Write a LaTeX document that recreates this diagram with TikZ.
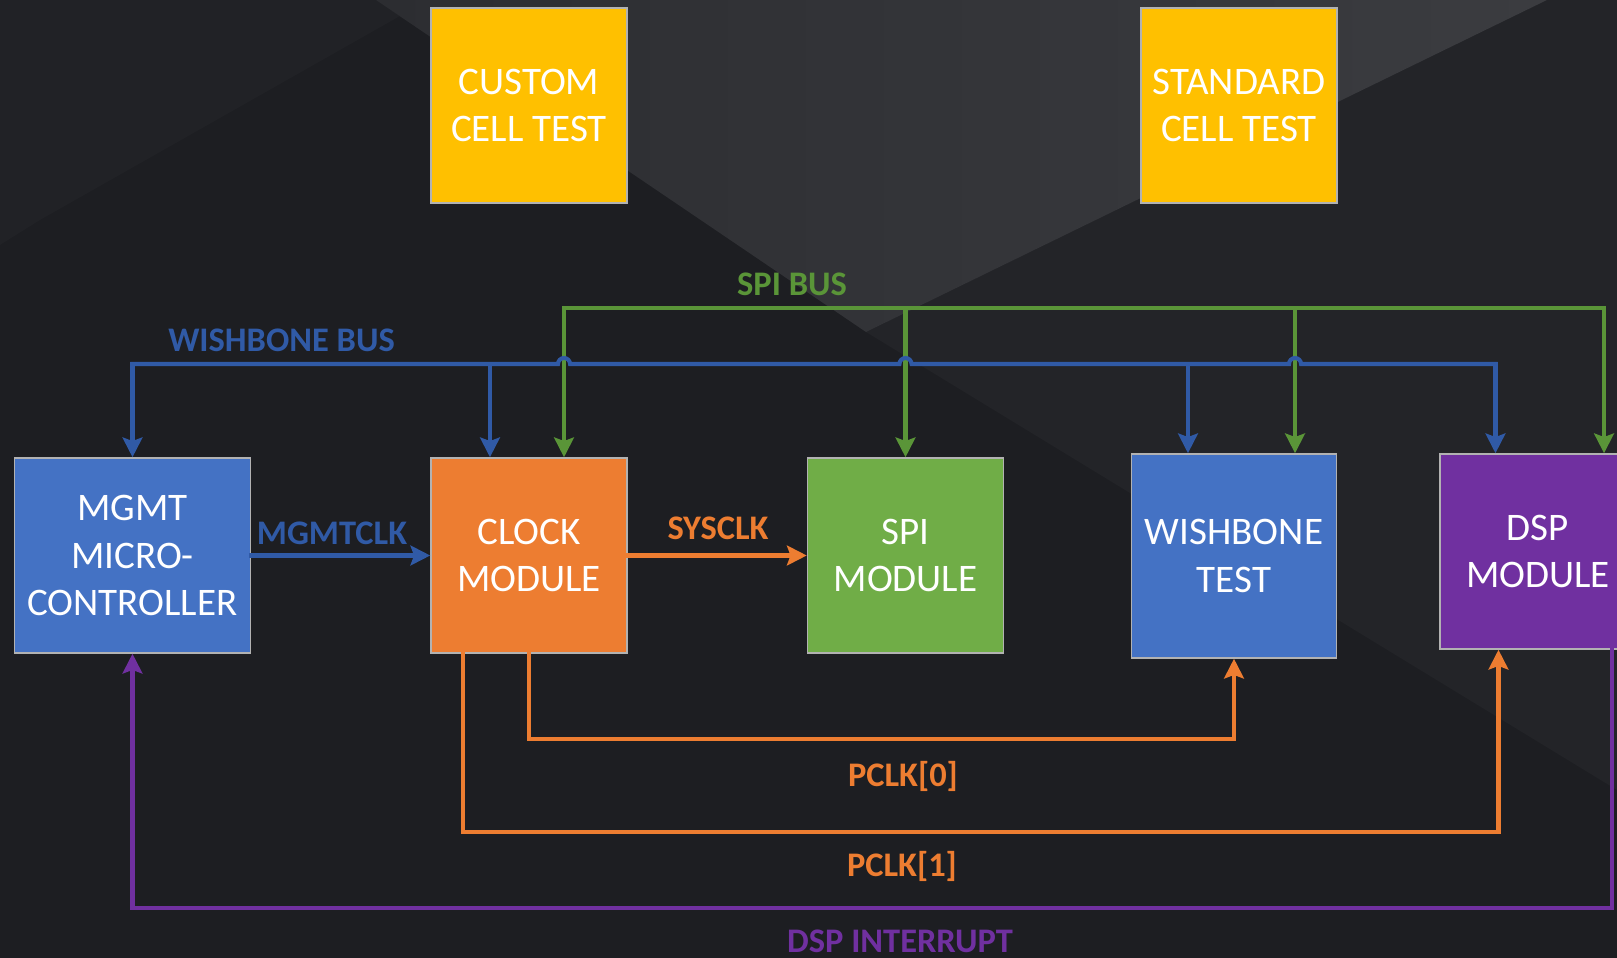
\documentclass[tikz,border=0pt]{standalone}
\usepackage{fontspec}
\setmainfont{Carlito}
\usetikzlibrary{arrows.meta,calc}
\definecolor{bgdark}{HTML}{1D1E22}
\definecolor{bgleft}{HTML}{212226}
\definecolor{bgfacet}{HTML}{232428}
\definecolor{vleft}{HTML}{2C2D31}
\definecolor{vright}{HTML}{3B3C40}
\definecolor{boxblue}{HTML}{4472C4}
\definecolor{boxorange}{HTML}{ED7D31}
\definecolor{boxgreen}{HTML}{70AD47}
\definecolor{boxpurple}{HTML}{7030A0}
\definecolor{boxyellow}{HTML}{FFC000}
\definecolor{wbblue}{HTML}{305AA6}
\definecolor{spigreen}{HTML}{5A9538}
\definecolor{clkorange}{HTML}{ED7D31}
\definecolor{intpurple}{HTML}{7030A0}
\begin{document}
\begin{tikzpicture}[x=0.01cm,y=-0.01cm,
  blk/.style={draw=gray!60,line width=0.4pt,inner sep=0pt,text=white,align=center,
    minimum width=1.96cm,minimum height=1.95cm,font=\fontsize{11.1}{13.4}\selectfont},
  lbl/.style={anchor=base,inner sep=0pt,font=\bfseries\fontsize{9.8}{11}\selectfont},
  tip/.style={-{Stealth[length=5.6pt,width=5.6pt,inset=1pt]}}]
% px grid, 1617 x 958, y downwards
\ifx\buslw\undefined\newdimen\buslw\fi
\buslw=1.15pt
\global\def\busdraw{\draw[line width=\buslw,line cap=rect]}
\useasboundingbox (0,0) rectangle (1617,958);
\clip (0,0) rectangle (1617,958);
\fill[bgdark] (0,0) rectangle (1617,958);
\fill[bgleft] (0,0) -- (376,0) -- (400,16) -- (40,220) -- (0,245) -- cycle;
\fill[bgfacet] (866,332) -- (1547,0) -- (1617,0) -- (1617,790) -- cycle;
\shade[left color=vleft,right color=vright] (376,0) -- (1547,0) -- (866,332) -- cycle;
\node[blk,fill=boxyellow] (custom) at (529,105.5) {CUSTOM\\CELL TEST};
\node[blk,fill=boxyellow] (standard) at (1239,105.5) {STANDARD\\CELL TEST};
\node[blk,fill=boxblue,minimum width=2.36cm] (mgmt) at (132.5,555.5) {MGMT\\MICRO-\\CONTROLLER};
\node[blk,fill=boxorange] (clock) at (529,555.5) {CLOCK\\MODULE};
\node[blk,fill=boxgreen] (spi) at (905.5,555.5) {SPI\\MODULE};
\node[blk,fill=boxblue,minimum width=2.05cm,minimum height=2.04cm] (wbtest) at (1234,556) {WISHBONE\\TEST};
\node[blk,fill=boxpurple] (dsp) at (1538,551.5) {DSP\\MODULE};
\coordinate (wbbus) at (0,364);
\coordinate (spibus) at (0,308);
\coordinate (clkwb) at ([xshift=-0.39cm]clock.north);
\coordinate (clkspi) at ([xshift=0.35cm]clock.north);
\coordinate (wbtwb) at ([xshift=-0.46cm]wbtest.north);
\coordinate (wbtspi) at ([xshift=0.61cm]wbtest.north);
\coordinate (dspwb) at ([xshift=-0.425cm]dsp.north);
\coordinate (dspspi) at ([xshift=0.66cm]dsp.north);
\busdraw[spigreen] (clkspi |- spibus)
 --(dspspi |- spibus);
\foreach \t in {clkspi,spi.north,wbtspi,dspspi}
  \busdraw[spigreen,tip] (\t |- spibus) -- (\t);
\busdraw[wbblue] (mgmt.north |- wbbus)
 --($(clkspi |- wbbus)+(-6,0)$) arc[start angle=180,end angle=0,radius=0.06cm]
 --($(spi.north |- wbbus)+(-6,0)$) arc[start angle=180,end angle=0,radius=0.06cm]
 --($(wbtspi |- wbbus)+(-6,0)$) arc[start angle=180,end angle=0,radius=0.06cm]
 --(dspwb |- wbbus);
\foreach \t in {mgmt.north,clkwb,wbtwb,dspwb}
  \busdraw[wbblue,tip] (\t |- wbbus) -- (\t);
\busdraw[wbblue,tip] (mgmt.east) -- (clock.west);
\busdraw[clkorange,tip] (clock.east) -- (spi.west);
\busdraw[clkorange,tip] (clock.south)
 --++(0,85) -| (wbtest.south);
\busdraw[clkorange,tip] ([xshift=0.33cm]clock.south west)
 --++(0,178) -| ([xshift=-0.395cm]dsp.south);
\busdraw[intpurple,tip] ([xshift=0.74cm]dsp.south)
 --++(0,258.5) -| (mgmt.south);
\node[lbl,text=wbblue] (wbbuslbl) at (281.5,351.5) {WISHBONE BUS};
\node[lbl,text=spigreen] (spibuslbl) at (792,296) {SPI BUS};
\node[lbl,text=wbblue] (mclklbl) at (332,544.5) {MGMTCLK};
\node[lbl,text=clkorange] (sclklbl) at (718,540) {SYSCLK};
\node[lbl,text=clkorange] (pclkzlbl) at (903,787) {PCLK[0]};
\node[lbl,text=clkorange] (pclkolbl) at (902,876.5) {PCLK[1]};
\node[lbl,text=intpurple] (intlbl) at (900,953) {DSP INTERRUPT};
\end{tikzpicture}
\end{document}
